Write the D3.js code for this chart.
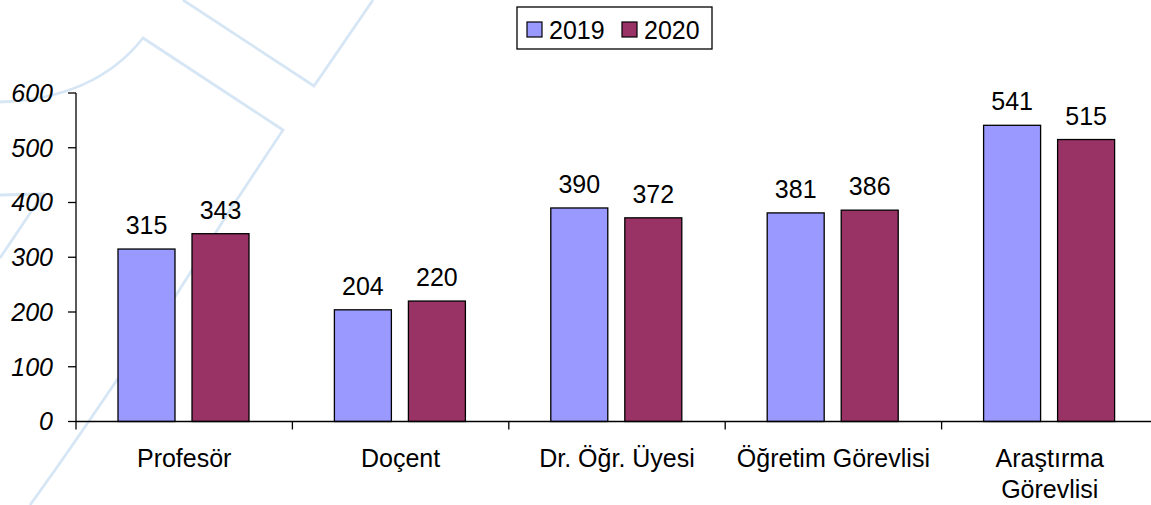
<!DOCTYPE html>
<html>
<head>
<meta charset="utf-8">
<script src="https://cdn.jsdelivr.net/npm/d3@7"></script>
<style>
  html, body { margin: 0; padding: 0; background: #fff; }
  svg { display: block; }
  text { font-family: "Liberation Sans", Arial, sans-serif; fill: #000; }
</style>
</head>
<body>
<svg id="chart" width="1151" height="505"></svg>
<script>
// ---- data ----
const categories = ["Profesör", "Doçent", "Dr. Öğr. Üyesi", "Öğretim Görevlisi", "Araştırma Görevlisi"];
const seriesNames = ["2019", "2020"];
const values2019 = [315, 204, 390, 381, 541];
const values2020 = [343, 220, 372, 386, 515];
const yTicks = [0, 100, 200, 300, 400, 500, 600];
const colors = ["#9999ff", "#993366"];

const seriesValues = [values2019, values2020];
const rows = categories.map((c, i) => ({ cat: c, vals: seriesNames.map((s, j) => ({ s, v: seriesValues[j][i] })) }));

const svg = d3.select("#chart");
const W = 1151, H = 505;
const FS = 25;

// ---- decorative background lines ----
const deco = svg.append("g").attr("fill", "none").attr("stroke", "#d6e6f5").attr("stroke-width", 2.8);
deco.append("path").attr("d", "M183,0 L314,86 L373,0");
deco.append("path").attr("d", "M0,102 C60,100 110,80 143,38 L283,130 L230,210 L173,300 L117,380 C95,412 70,450 30,505");
deco.append("path").attr("d", "M0,195 L43,194 L0,258");

// ---- scales ----
const x0 = d3.scaleBand().domain(categories).range([76, 1158]).paddingInner(0).paddingOuter(0);
const x1 = d3.scaleBand().domain(seriesNames).range([42, 173]).paddingInner(0.23).paddingOuter(0);
const y = d3.scaleLinear().domain([0, 600]).range([421.5, 93]);
const color = d3.scaleOrdinal().domain(seriesNames).range(colors);

// ---- bars ----
const g = svg.append("g");
const groups = g.selectAll("g.cat").data(rows).join("g")
  .attr("class", "cat")
  .attr("transform", d => `translate(${x0(d.cat)},0)`);

groups.selectAll("rect").data(d => d.vals).join("rect")
  .attr("x", d => x1(d.s))
  .attr("width", x1.bandwidth())
  .attr("y", d => y(d.v))
  .attr("height", d => y(0) - y(d.v))
  .attr("fill", d => color(d.s))
  .attr("stroke", "#000")
  .attr("stroke-width", 1.3);

groups.selectAll("text.val").data(d => d.vals).join("text")
  .attr("class", "val")
  .attr("x", d => x1(d.s) + x1.bandwidth() / 2)
  .attr("y", d => y(d.v) - 15)
  .attr("text-anchor", "middle")
  .attr("font-size", FS)
  .text(d => d.v);

// ---- y axis ----
const yAxis = svg.append("g").attr("transform", "translate(76,0)");
yAxis.append("line").attr("x1", 0).attr("x2", 0).attr("y1", y(600)).attr("y2", y(0) + 8)
  .attr("stroke", "#000").attr("stroke-width", 1.3);
yAxis.selectAll("line.tick").data(yTicks).join("line")
  .attr("class", "tick")
  .attr("x1", -8).attr("x2", 0)
  .attr("y1", d => y(d)).attr("y2", d => y(d))
  .attr("stroke", "#000").attr("stroke-width", 1.3);
yAxis.selectAll("text").data(yTicks).join("text")
  .attr("x", -23)
  .attr("y", d => y(d))
  .attr("dy", "0.35em")
  .attr("text-anchor", "end")
  .attr("font-size", FS)
  .attr("font-style", "italic")
  .text(d => d);

// ---- x axis ----
const xAxis = svg.append("g");
xAxis.append("line").attr("x1", 76).attr("x2", W).attr("y1", y(0)).attr("y2", y(0))
  .attr("stroke", "#000").attr("stroke-width", 1.3);
xAxis.selectAll("line.tick").data(categories.slice(1)).join("line")
  .attr("class", "tick")
  .attr("x1", d => x0(d)).attr("x2", d => x0(d))
  .attr("y1", y(0)).attr("y2", y(0) + 8)
  .attr("stroke", "#000").attr("stroke-width", 1.3);

const labelLines = {
  "Araştırma Görevlisi": ["Araştırma", "Görevlisi"]
};
xAxis.selectAll("text.cat").data(categories).join("text")
  .attr("class", "cat")
  .attr("x", d => x0(d) + x0.bandwidth() / 2)
  .attr("y", 467)
  .attr("text-anchor", "middle")
  .attr("font-size", FS)
  .each(function(d) {
    const lines = labelLines[d] || [d];
    d3.select(this).selectAll("tspan").data(lines).join("tspan")
      .attr("x", x0(d) + x0.bandwidth() / 2)
      .attr("dy", (l, i) => i === 0 ? 0 : 31)
      .text(l => l);
  });

// ---- legend ----
const leg = svg.append("g");
leg.append("rect").attr("x", 517).attr("y", 7).attr("width", 195).attr("height", 42)
  .attr("fill", "#fff").attr("stroke", "#000").attr("stroke-width", 1.3);
const legX = d3.scaleOrdinal().domain(seriesNames).range([527, 622]);
const items = leg.selectAll("g.item").data(seriesNames).join("g").attr("class", "item")
  .attr("transform", d => `translate(${legX(d)},22)`);
items.append("rect").attr("width", 15).attr("height", 15)
  .attr("fill", d => color(d)).attr("stroke", "#000").attr("stroke-width", 1.2);
items.append("text").attr("x", 22).attr("y", 7.5).attr("dy", "0.36em")
  .attr("font-size", FS).text(d => d);
</script>
</body>
</html>
